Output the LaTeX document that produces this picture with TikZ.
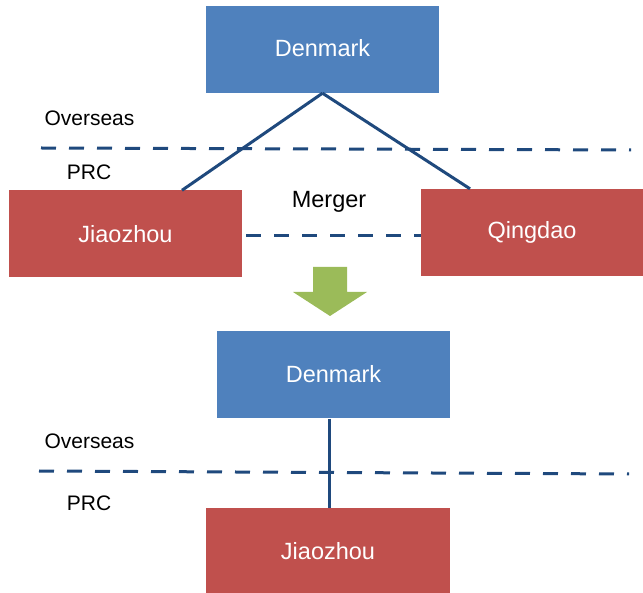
\documentclass[tikz,border=0pt]{standalone}
\usepackage{fontspec}
\setmainfont{Liberation Sans}
\definecolor{boxblue}{HTML}{4F81BD}
\definecolor{boxred}{HTML}{C0504D}
\definecolor{arrgreen}{HTML}{9BBB59}
\definecolor{linkblue}{HTML}{1F497D}
\begin{document}
\begin{tikzpicture}[x=1pt,y=-1pt,
  box/.style={rectangle, inner sep=0pt, text=white, font=\fontsize{23.5}{26}\selectfont},
  bluebox/.style={box, fill=boxblue, minimum width=233pt, minimum height=87pt},
  redbox/.style={box, fill=boxred, minimum height=87pt},
  lbl/.style={inner sep=0pt, font=\fontsize{21}{24}\selectfont},
  link/.style={draw=linkblue, line width=3pt},
  border/.style={draw=linkblue, line width=3pt, dash pattern=on 15pt off 13pt}
]
\useasboundingbox (0,0) rectangle (643,593);
% top part
\node[bluebox] (d1) at (322.5,49.5) {\raisebox{3pt}{Denmark}};
\node[redbox, minimum width=233pt] (j1) at (125.5,234) {Jiaozhou};
\node[redbox, minimum width=222pt] (q1) at (532,232.5) {Qingdao};
\node[lbl] (o1) at (89.5,118) {Overseas};
\node[lbl] (p1) at (89,172) {PRC};
\node[box, text=black] (m) at (329,202) {Merger};
\coordinate (b1s) at (41,148);
\coordinate (b1e) at (631,150);
\draw[border] (b1s) -- (b1e);
\draw[link] (d1.south) -- (j1.north -| 182,0);
\draw[link] (d1.south) -- (q1.north -| 470,0);
\coordinate (m1) at (246,236);
\coordinate (m2) at (421,236);
\draw[border] (m1) -- (m2);
% green arrow
\fill[arrgreen] (313,267) -- (347,267) -- (347,292) -- (367,292) -- (330,316) -- (293,292) -- (313,292) -- cycle;
% bottom part
\node[bluebox] (d2) at (333.5,375) {\raisebox{3pt}{Denmark}};
\node[redbox, minimum width=244pt, minimum height=87pt] (j2) at (328,551.5) {Jiaozhou};
\node[lbl] (o2) at (89.5,441) {Overseas};
\node[lbl] (p2) at (89,503) {PRC};
\coordinate (b2s) at (39,471);
\coordinate (b2e) at (629,474);
\draw[border] (b2s) -- (b2e);
\draw[link] (d2.south -| 329,0) -- (j2.north -| 329,0);
\end{tikzpicture}
\end{document}
